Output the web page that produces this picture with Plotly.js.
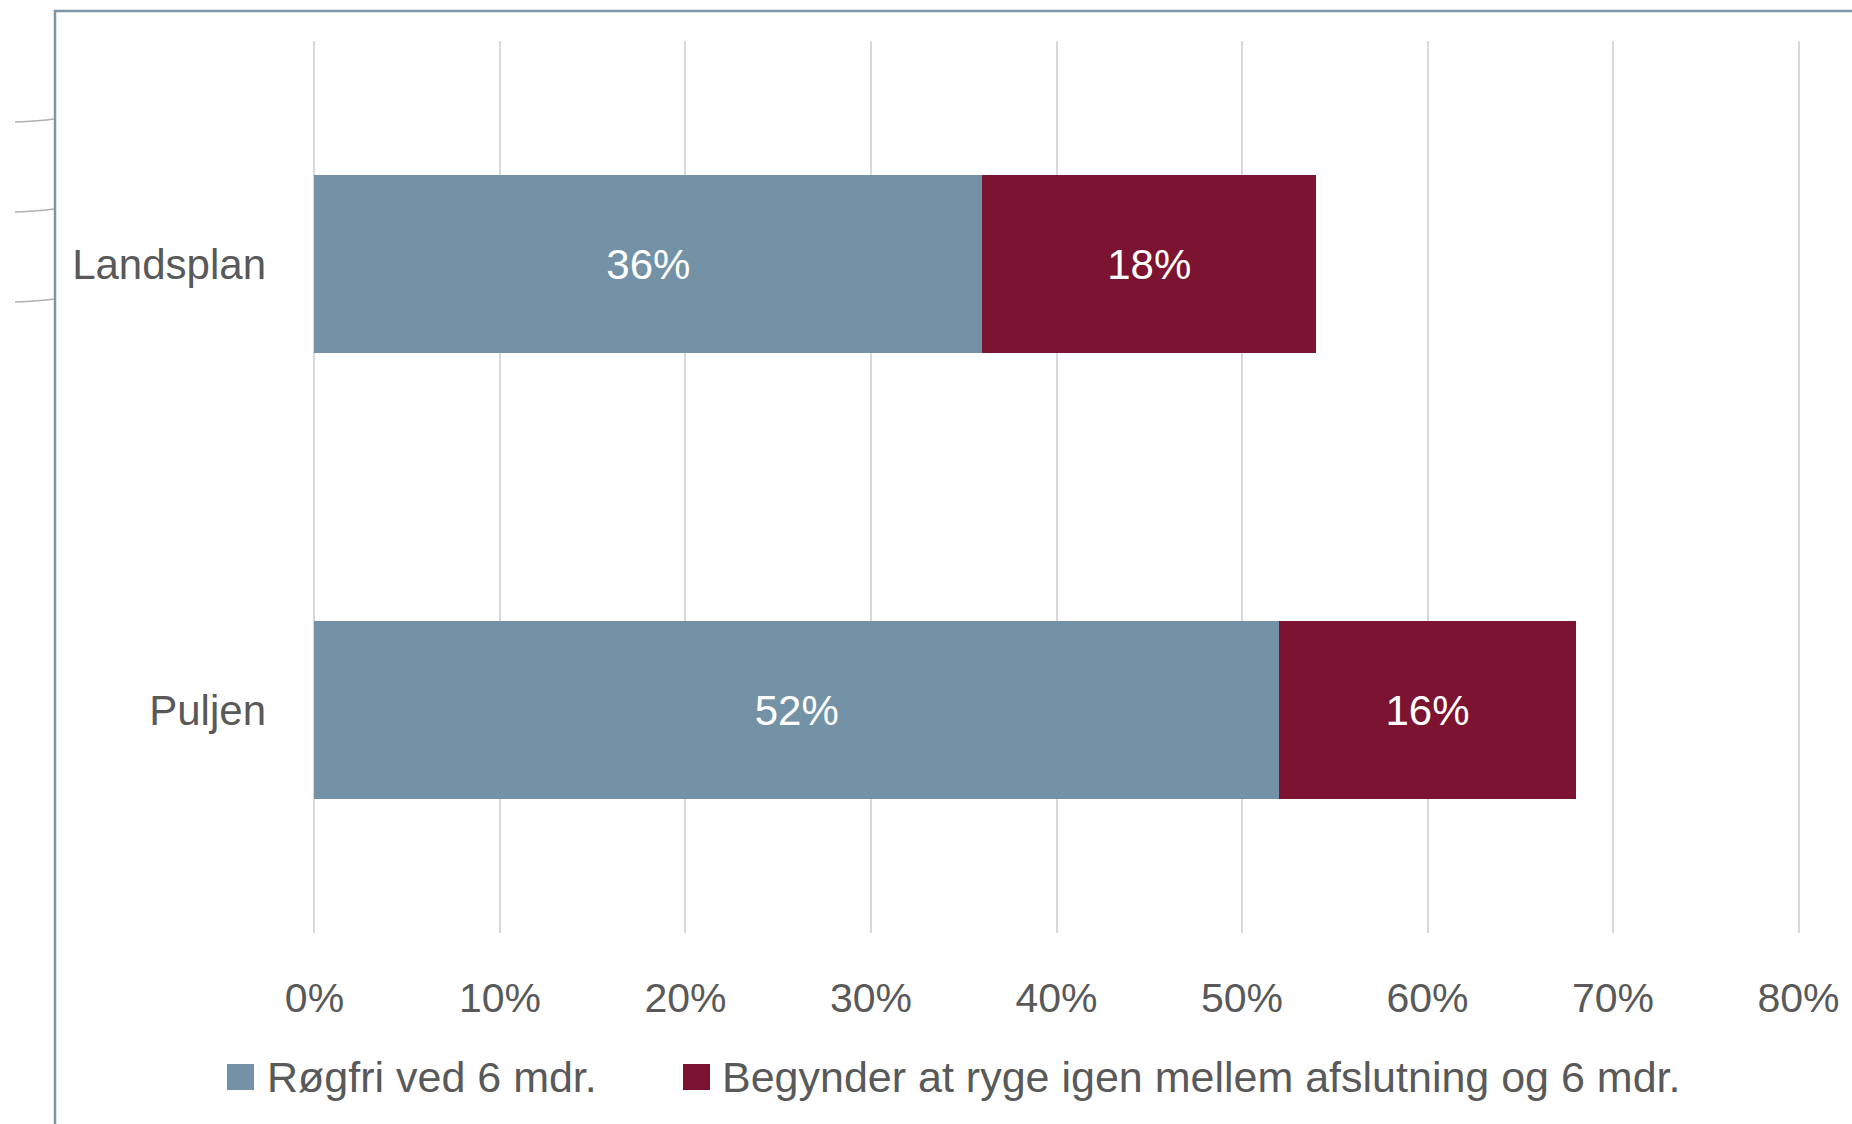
<!DOCTYPE html>
<html>
<head>
<meta charset="utf-8">
<script src="https://cdn.plot.ly/plotly-3.0.1.min.js"></script>
<style>
  html, body { margin: 0; padding: 0; background: #ffffff; }
  #chart { width: 1852px; height: 1124px; }
</style>
</head>
<body>
<div id="chart"></div>
<script>
// ---- data ----
const categories = ["Landsplan", "Puljen"];
const seriesNames = ["Røgfri ved 6 mdr.", "Begynder at ryge igen mellem afslutning og 6 mdr."];
const roegfri = [0.36, 0.52];
const begynder = [0.18, 0.16];
const xTickVals = [0, 0.1, 0.2, 0.3, 0.4, 0.5, 0.6, 0.7, 0.8];
const seriesColors = ["#7492a5", "#7b1331"];

// ---- geometry helpers (pixel -> paper) ----
const W = 1852, H = 1124;
const mL = 313, mR = 52, mT = 41, mB = 191;
const pw = W - mL - mR, ph = H - mT - mB;
const px = x => (x - mL) / pw;
const py = y => (H - mB - y) / ph;

const font = "Liberation Sans, Arial, sans-serif";
const textColor = "#595959";

const traces = [
  {
    type: "bar", orientation: "h", name: seriesNames[0],
    y: categories, x: roegfri,
    marker: { color: seriesColors[0] },
    texttemplate: "%{x:.0%}", textposition: "inside", insidetextanchor: "middle",
    textfont: { family: font, size: 42, color: "#ffffff" },
    showlegend: false, hoverinfo: "skip"
  },
  {
    type: "bar", orientation: "h", name: seriesNames[1],
    y: categories, x: begynder,
    marker: { color: seriesColors[1] },
    texttemplate: "%{x:.0%}", textposition: "inside", insidetextanchor: "middle",
    textfont: { family: font, size: 42, color: "#ffffff" },
    showlegend: false, hoverinfo: "skip"
  }
];

// manual legend (large squares like the original)
const legendItems = [
  { sq: 227, txt: 265 },
  { sq: 683, txt: 720 }
];
const legendY = 1077;
const shapes = [];
const annotations = [];
legendItems.forEach((it, i) => {
  shapes.push({
    type: "rect", xref: "paper", yref: "paper",
    x0: px(it.sq), x1: px(it.sq + 27), y0: py(legendY + 13), y1: py(legendY - 13),
    fillcolor: seriesColors[i], line: { width: 0 }
  });
  annotations.push({
    xref: "paper", yref: "paper", x: px(it.txt), y: py(legendY),
    xanchor: "left", yanchor: "middle", showarrow: false,
    text: seriesNames[i], font: { family: font, size: 43, color: textColor }
  });
});

// outer frame (top & left border)
shapes.push({
  type: "path", xref: "paper", yref: "paper",
  path: `M ${px(55)},${py(1130)} L ${px(55)},${py(11)} L ${px(1860)},${py(11)}`,
  line: { color: "#7d97a9", width: 2.5 }
});
// small decorative stubs at far left
[120, 210, 300].forEach(y => {
  shapes.push({
    type: "path", xref: "paper", yref: "paper",
    path: `M ${px(15)},${py(y + 2)} Q ${px(40)},${py(y + 1)} ${px(54)},${py(y - 1)}`,
    line: { color: "#b0b0b0", width: 1.5 }
  });
});

const layout = {
  width: W, height: H,
  margin: { l: mL, r: mR, t: mT, b: mB, pad: 0 },
  paper_bgcolor: "#ffffff", plot_bgcolor: "#ffffff",
  barmode: "stack", bargap: 0.6,
  showlegend: false,
  font: { family: font, color: textColor },
  xaxis: {
    range: [-0.0008, 0.8008], tickvals: xTickVals, tickformat: ".0%",
    showgrid: true, gridcolor: "#d9d9d9", gridwidth: 2,
    zeroline: false, showline: false, ticks: "",
    tickfont: { family: font, size: 41, color: textColor },
    ticklabelstandoff: 37, fixedrange: true
  },
  yaxis: {
    type: "category", autorange: "reversed",
    showgrid: false, zeroline: false, showline: false, ticks: "",
    tickfont: { family: font, size: 42, color: textColor },
    ticklabelstandoff: 46, fixedrange: true
  },
  shapes: shapes,
  annotations: annotations
};

Plotly.newPlot("chart", traces, layout, { displayModeBar: false, staticPlot: true });
</script>
</body>
</html>
